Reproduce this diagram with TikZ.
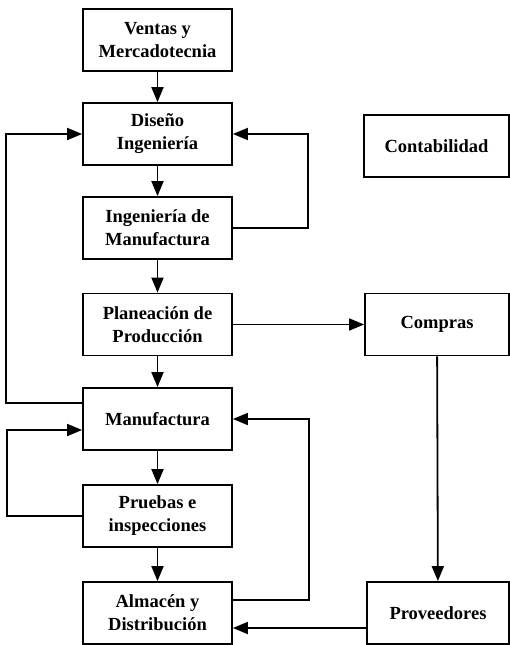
\documentclass[tikz,border=0pt]{standalone}
\usepackage{fontspec}
\setmainfont{Liberation Serif}
\usetikzlibrary{arrows.meta}
\begin{document}
\begin{tikzpicture}[x=1pt, y=-1pt,
  box/.style={draw, line width=1.8pt, rectangle, align=center,
    minimum width=149pt, minimum height=62pt, inner sep=0pt,
    font=\fontsize{18.5}{23}\selectfont\bfseries},
  sidebox/.style={box, minimum width=144pt},
  link/.style={line width=1.8pt, -{Triangle[length=15pt,width=12pt]}},
  plain/.style={line width=1.8pt}]
\useasboundingbox (0,0) rectangle (510,645);

% main column
\node[box] (ventas)  at (157.5,40)  {Ventas y\\Mercadotecnia};
\node[box] (diseno)  at (157.5,134) {Diseño\\Ingeniería};
\node[box] (ingman)  at (157.5,228) {Ingeniería de\\Manufactura};
\node[box] (plan)    at (157.5,324.5) {Planeación de\\Producción};
\node[box] (manuf)   at (157.5,419) {Manufactura};
\node[box] (pruebas) at (157.5,516) {Pruebas e\\inspecciones};
\node[box] (almacen) at (157.5,613) {Almacén y\\Distribución};

% right column
\node[sidebox, minimum width=145pt] (conta) at (436.5,146) {Contabilidad};
\node[sidebox] (compras) at (437,324.5) {Compras};
\node[sidebox, minimum width=142pt] (prov) at (438,613) {Proveedores};

% downward flow
\draw[link] (ventas) -- (diseno);
\draw[link] (diseno) -- (ingman);
\draw[link] (ingman) -- (plan);
\draw[link] (plan) -- (manuf);
\draw[link] (manuf) -- (pruebas);
\draw[link] (pruebas) -- (almacen);

% purchasing and suppliers
\draw[link] (plan) -- (compras);
\draw[link] (compras) -- (prov);
\draw[link] ([yshift=-15pt]prov.west) -- ([yshift=-15pt]almacen.east);

% feedback loops
\draw[link] (ingman.east) -- ++(75,0) |- (diseno.east);
\draw[link] ([yshift=16pt]manuf.west) -- ++(-76,0) |- (diseno.west);
\draw[link] (pruebas.west) -- ++(-75,0) |- ([yshift=-11pt]manuf.west);
\draw[link] ([yshift=13pt]almacen.east) -- ++(76,0) |- (manuf.east);
\end{tikzpicture}
\end{document}
